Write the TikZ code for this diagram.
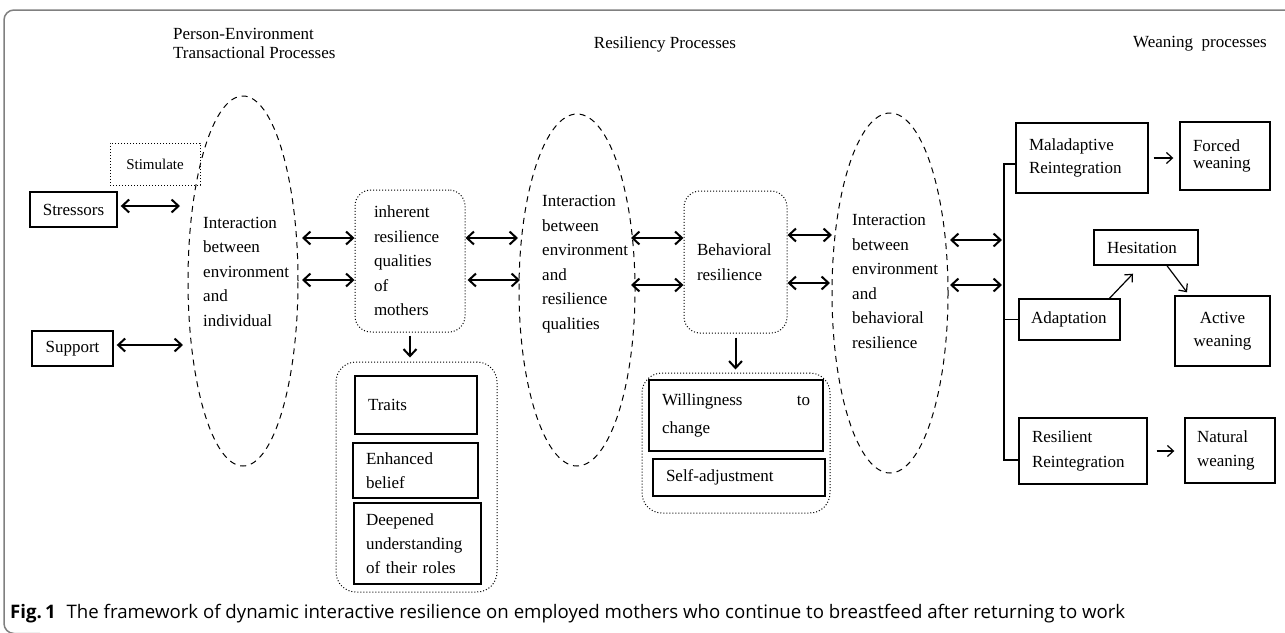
\documentclass[tikz,border=0pt]{standalone}
\usepackage{fontspec}
\usepackage{graphicx}
\setmainfont{Liberation Serif}
\newfontfamily\capfont{Open Sans}
\usetikzlibrary{arrows.meta,shapes.geometric}
\definecolor{framec}{RGB}{128,128,128}
\tikzset{
  base/.style={font=\fontsize{17}{24.5}\selectfont},
  dbl/.style={{Straight Barb[length=7pt,width=13pt]}-{Straight Barb[length=7pt,width=13pt]}, line width=2pt},
  sgl/.style={-{Straight Barb[length=7pt,width=13pt]}, line width=2pt},
  tarrow/.style={-{Straight Barb[length=6pt,width=11pt]}, line width=1.2pt},
  ell/.style={draw, ellipse, dash pattern=on 6pt off 5pt, line width=1pt, inner sep=0pt},
  dotbox/.style={draw, dotted, rounded corners=16pt, line width=1pt, align=left},
  sbox/.style={draw, line width=1.4pt, rectangle, align=left},
  txt/.style={align=left, inner sep=0pt, anchor=west},
  tree/.style={line width=1.3pt}
}
\begin{document}
\begin{tikzpicture}[x=1pt,y=-1pt, every node/.style={base}]
\useasboundingbox (0,0) rectangle (1285,632);
% frame
\draw[framec, line width=1.5pt, rounded corners=10pt] (1290,10) -- (4,10) -- (4,633.5) -- (40,633.5);

% headings
\node[txt, font=\fontsize{17}{19.5}\selectfont] (h1) at (173,43.5) {Person-Environment\\Transactional Processes};
\node[inner sep=0pt] (h2) at (665,44) {Resiliency Processes};
\node[txt] (h3) at (1133,44) {Weaning\ \ processes};

% left column
\node[draw, dotted, line width=1pt, minimum width=90, minimum height=42, font=\fontsize{15}{18}\selectfont] (stim) at (155,164) {Stimulate};
\node[sbox, minimum width=87, minimum height=35] (stress) at (73.5,209.5) {Stressors};
\node[sbox, minimum width=81, minimum height=35] (supp) at (72.5,348.5) {Support};

% ellipse 1
\node[ell, minimum width=110, minimum height=370] (e1) at (243,281) {};
\node[txt] (e1t) at (203,271.5) {Interaction\\between\\environment\\and\\individual};

% inherent
\node[dotbox, minimum width=110, minimum height=142, text width=72, inner xsep=19] (inh) at (410,261) {inherent\\resilience\\qualities\\of\\mothers};
\node[draw, dotted, line width=1pt, rounded corners=20pt, minimum width=161, minimum height=230] (g1) at (416.5,477) {};
\node[sbox, minimum width=122, minimum height=58, text width=96, inner xsep=13] (traits) at (416,405) {Traits};
\node[sbox, minimum width=125, minimum height=55, text width=99, inner xsep=13, font=\fontsize{17}{24}\selectfont] (enh) at (415.5,470.5) {Enhanced\\belief};
\node[sbox, minimum width=127, minimum height=81, text width=103, inner xsep=12, font=\fontsize{17}{24}\selectfont] (deep) at (417.5,543.5) {Deepened\\understanding\\of their roles};

% ellipse 2
\node[ell, minimum width=116, minimum height=352] (e2) at (577,290) {};
\node[txt] (e2t) at (542,264) {Interaction\\between\\environment\\and\\resilience\\qualities};

% behavioral
\node[dotbox, minimum width=103, minimum height=142, text width=77, inner xsep=13] (beh) at (735.5,262) {Behavioral\\resilience};
\node[draw, dotted, line width=1pt, rounded corners=20pt, minimum width=188, minimum height=140] (g2) at (736,443) {};
\node[sbox, minimum width=174, minimum height=71, text width=148, inner xsep=13, font=\fontsize{17}{28}\selectfont] (will) at (736,415.5) {Willingness\hfill to\\change};
\node[sbox, minimum width=172, minimum height=37, text width=146, inner xsep=13] (selfadj) at (739,477.5) {Self-adjustment};

% ellipse 3
\node[ell, minimum width=116, minimum height=360] (e3) at (890,293) {};
\node[txt] (e3t) at (852,281.5) {Interaction\\between\\environment\\and\\behavioral\\resilience};

% right side
\node[sbox, minimum width=132, minimum height=70, text width=106, inner xsep=13, font=\fontsize{17}{23}\selectfont] (mal) at (1082,158) {Maladaptive\\Reintegration};
\node[sbox, minimum width=90, minimum height=68, text width=64, inner xsep=13, font=\fontsize{17}{17.5}\selectfont] (forced) at (1225,156) {Forced\\weaning};
\node[sbox, minimum width=104, minimum height=35, text width=78, inner xsep=13] (hes) at (1146,247.5) {Hesitation};
\node[sbox, minimum width=101, minimum height=41, text width=77, inner xsep=12] (adapt) at (1069.5,319.5) {Adaptation};
\node[sbox, minimum width=95, minimum height=70, text width=80, inner xsep=7.5, align=center, font=\fontsize{17}{23}\selectfont] (active) at (1222.5,331) {Active\\weaning};
\node[sbox, minimum width=128, minimum height=66, text width=102, inner xsep=13] (resil) at (1083,451) {Resilient\\Reintegration};
\node[sbox, minimum width=90, minimum height=65, text width=66, inner xsep=12] (natural) at (1230,450.5) {Natural\\weaning};

% tree
\coordinate (vtop) at (1004,164);
\coordinate (vbot) at (1004,460);
\draw[tree] (mal.west |- vtop) -- (vtop) -- (vbot) -- (resil.west |- vbot);
\draw[tree] (adapt.west) -- (adapt.west -| vtop);

% double arrows
\coordinate (s1) at (180,206);
\coordinate (s2) at (183,345);
\draw[dbl, shorten <=3pt] (stress.east |- s1) -- (s1);
\draw[dbl, shorten <=3pt] (supp.east |- s2) -- (s2);
\coordinate (a1) at (302,238);
\coordinate (a2) at (302,280);
\draw[dbl] (a1) -- (inh.west |- a1);
\draw[dbl] (a2) -- (inh.west |- a2);
\coordinate (b1) at (518,238);
\coordinate (b2) at (520,280);
\draw[dbl] (inh.east |- b1) -- (b1);
\draw[dbl, shorten <=2pt] (inh.east |- b2) -- (b2);
\coordinate (c1) at (631,238);
\coordinate (c2) at (631,285);
\draw[dbl] (c1) -- (beh.west |- c1);
\draw[dbl] (c2) -- (beh.west |- c2);
\coordinate (d1) at (832,235);
\coordinate (d2) at (830,283);
\draw[dbl] (beh.east |- d1) -- (d1);
\draw[dbl] (beh.east |- d2) -- (d2);
\coordinate (f1) at (950,240);
\coordinate (f2) at (950,285);
\draw[dbl, shorten >=2pt] (f1) -- (f1 -| vtop);
\draw[dbl, shorten >=2pt] (f2) -- (f2 -| vtop);

% down arrows
\draw[sgl, shorten <=3pt, shorten >=4pt] (inh.south) -- (inh.south |- g1.north);
\draw[sgl, shorten <=4pt, shorten >=3pt] (beh.south) -- (beh.south |- g2.north);

% thin arrows
\draw[tarrow, shorten <=5pt, shorten >=6pt] (mal.east) -- (forced.west |- mal.east);
\draw[tarrow, shorten <=9pt, shorten >=10pt] (resil.east) -- (natural.west |- resil.east);
\draw[tarrow] ([xshift=40pt]adapt.north) -- ([xshift=-13pt,yshift=-8pt]hes.south);
\draw[tarrow] ([xshift=21pt]hes.south) -- ([xshift=-35.5pt,yshift=3pt]active.north);

% caption
\node[anchor=base west, inner sep=0pt, font=\capfont\fontsize{17}{20}\selectfont] (cap) at (10,618) {\resizebox{1115pt}{!}{\textbf{Fig.\,1}\hspace{10pt}The framework of dynamic interactive resilience on employed mothers who continue to breastfeed after returning to work}};
\end{tikzpicture}
\end{document}
